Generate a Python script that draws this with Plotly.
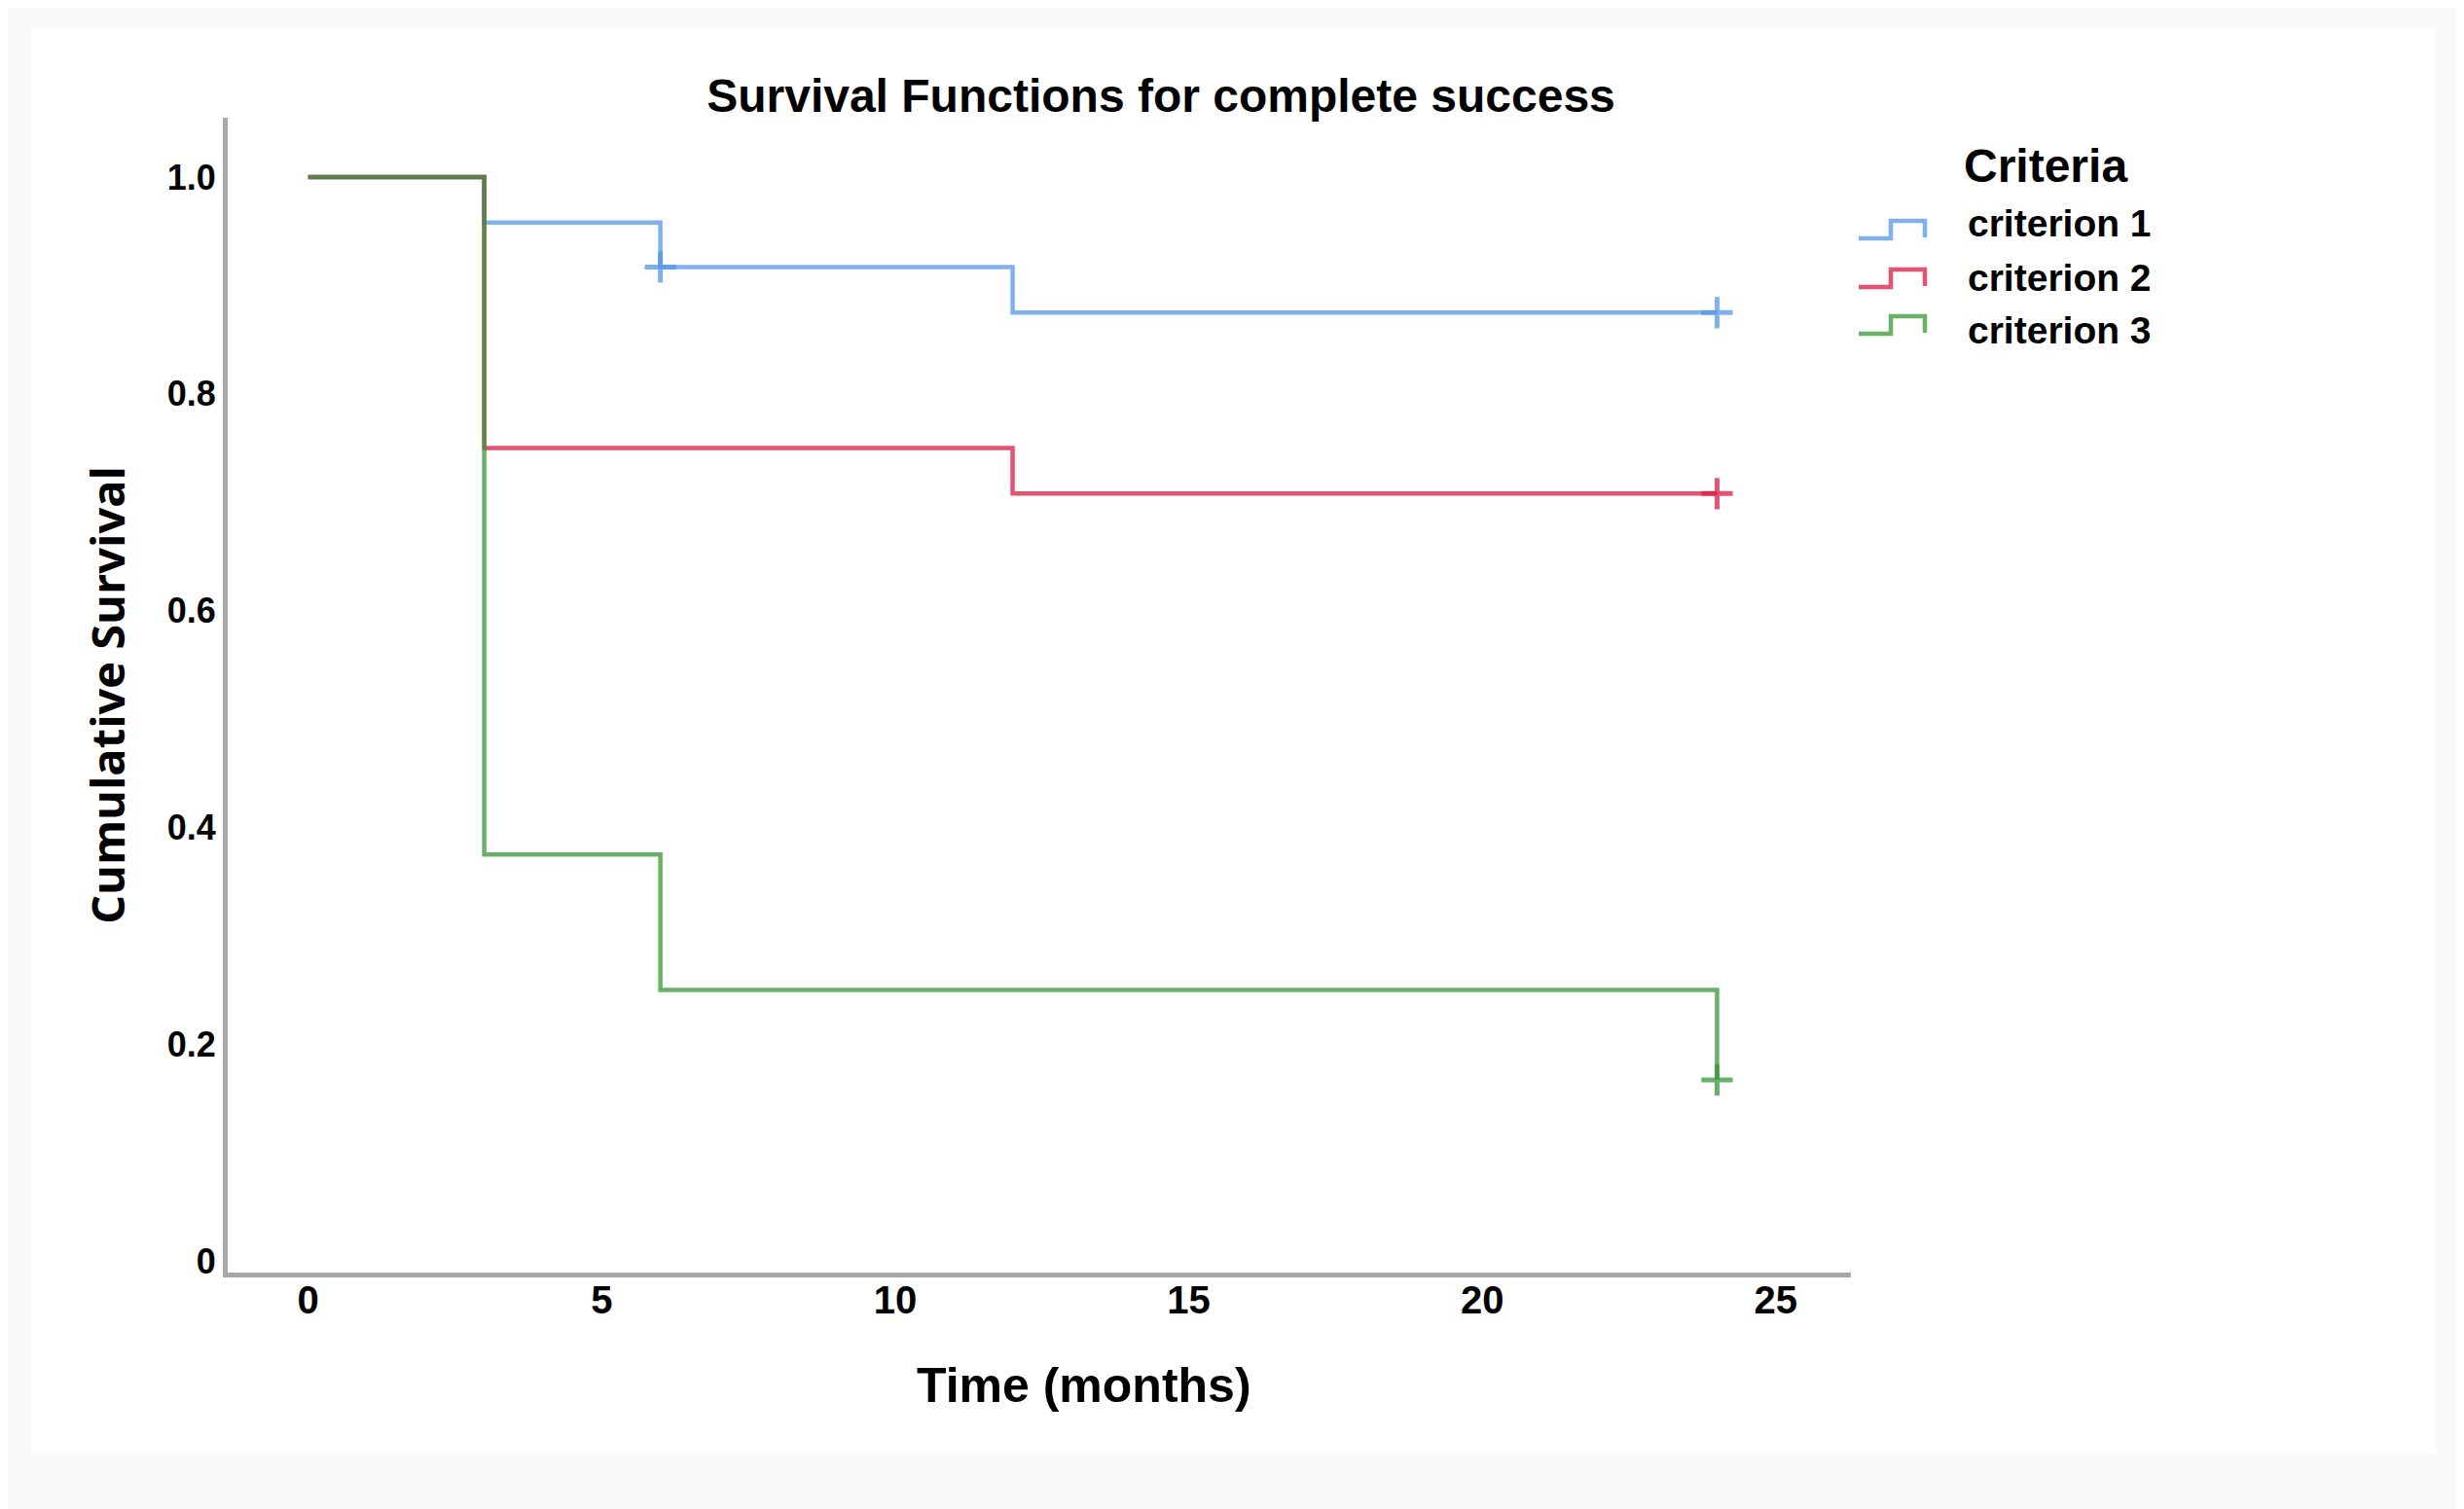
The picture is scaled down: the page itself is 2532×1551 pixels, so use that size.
import plotly.graph_objects as go

# ---- data ----
series_names = ["criterion 1", "criterion 2", "criterion 3"]

c1_time = [0, 3, 6, 12, 24]
c1_surv = [1.0, 0.958, 0.917, 0.875, 0.875]
c1_cens_time = [6, 24]
c1_cens_surv = [0.917, 0.875]

c2_time = [0, 3, 12, 24]
c2_surv = [1.0, 0.75, 0.708, 0.708]
c2_cens_time = [24]
c2_cens_surv = [0.708]

c3_time = [0, 3, 6, 24]
c3_surv = [1.0, 0.375, 0.25, 0.167]
c3_cens_time = [24]
c3_cens_surv = [0.167]

x_ticks = [0, 5, 10, 15, 20, 25]
y_ticks = [0, 0.2, 0.4, 0.6, 0.8, 1.0]
y_tick_text = ["0", "0.2", "0.4", "0.6", "0.8", "1.0"]

colors = ["rgba(85,150,232,0.75)", "rgba(220,25,65,0.75)", "rgba(55,150,55,0.75)"]

# ---- layout geometry (pixels, page coordinates; page body has an 8px margin) ----
OFF = 8
W, H = 2532 - OFF, 1551 - OFF
L, T = 234 - OFF, 121 - OFF
R = W - (1902 - OFF)
B = H - (1308 - OFF)
PW, PH = W - L - R, H - T - B


def px(xp):
    return (xp - OFF - L) / PW


def py(yp):
    return (H - B - (yp - OFF)) / PH


fig = go.Figure()
curves = [
    (c1_time, c1_surv, c1_cens_time, c1_cens_surv),
    (c2_time, c2_surv, c2_cens_time, c2_cens_surv),
    (c3_time, c3_surv, c3_cens_time, c3_cens_surv),
]
for name, col, (t, s, ct, cs) in zip(series_names, colors, curves):
    fig.add_trace(go.Scatter(x=t, y=s, mode="lines", line=dict(color=col, width=4.5, shape="hv"),
                             name=name, showlegend=False))
    fig.add_trace(go.Scatter(x=ct, y=cs, mode="markers", name=name + " censored",
                             marker=dict(symbol="cross-thin", size=23, line=dict(color=col, width=5)),
                             showlegend=False))

font_main = "Liberation Sans, Arial, sans-serif"

# custom step-glyph legend
legend_glyph_rows = [236, 286, 334]
legend_text_rows = [229, 285, 340]
shapes = [dict(type="rect", xref="paper", yref="paper", x0=px(32), x1=px(2503), y0=py(1494), y1=py(29),
               fillcolor="white", line=dict(width=0), layer="below")]
annotations = [
    dict(text="<b>Criteria</b>", xref="paper", yref="paper", x=px(2016), y=py(170),
         xanchor="left", yanchor="middle", showarrow=False,
         font=dict(family=font_main, size=48, color="black")),
    dict(text="<b>Time (months)</b>", xref="paper", yref="paper", x=px(1114), y=py(1424),
         xanchor="center", yanchor="middle", showarrow=False,
         font=dict(family=font_main, size=50, color="black")),
]
for name, col, yg, yt in zip(series_names, colors, legend_glyph_rows, legend_text_rows):
    path = "M {:.5f},{:.5f} L {:.5f},{:.5f} L {:.5f},{:.5f} L {:.5f},{:.5f} L {:.5f},{:.5f}".format(
        px(1910), py(yg + 9), px(1943), py(yg + 9), px(1943), py(yg - 9),
        px(1978), py(yg - 9), px(1978), py(yg + 8))
    shapes.append(dict(type="path", xref="paper", yref="paper", path=path,
                       line=dict(color=col, width=4.5)))
    annotations.append(dict(text="<b>" + name + "</b>", xref="paper", yref="paper", x=px(2020), y=py(yt),
                            xanchor="left", yanchor="middle", showarrow=False,
                            font=dict(family=font_main, size=39, color="black")))

fig.update_layout(
    width=W, height=H,
    margin=dict(l=L, r=R, t=T, b=B, pad=0),
    paper_bgcolor="#fafafa", plot_bgcolor="white",
    title=dict(text="<b>Survival Functions for complete success</b>", x=(1193 - OFF) / W,
               y=1 - (98 - OFF) / H, xanchor="center", yanchor="middle", xref="container", yref="container",
               font=dict(family=font_main, size=48, color="black")),
    shapes=shapes, annotations=annotations,
    xaxis=dict(range=[-1.37, 26.28], tickvals=x_ticks, showgrid=False, zeroline=False,
               showline=True, linecolor="#a8a8a8", linewidth=5, ticks="", ticklabelstandoff=-11,
               tickfont=dict(family=font_main, size=40, color="black", weight="bold")),
    yaxis=dict(range=[-0.0108, 1.0548], tickvals=y_ticks, ticktext=y_tick_text, showgrid=False,
               zeroline=False, showline=True, linecolor="#a8a8a8", linewidth=5, ticks="",
               tickfont=dict(family=font_main, size=36, color="black", weight="bold"),
               title=dict(text="<b>Cumulative Survival</b>", standoff=30,
                          font=dict(family="Open Sans, sans-serif", size=47, color="black"))),
)

fig.write_html("out.html")
